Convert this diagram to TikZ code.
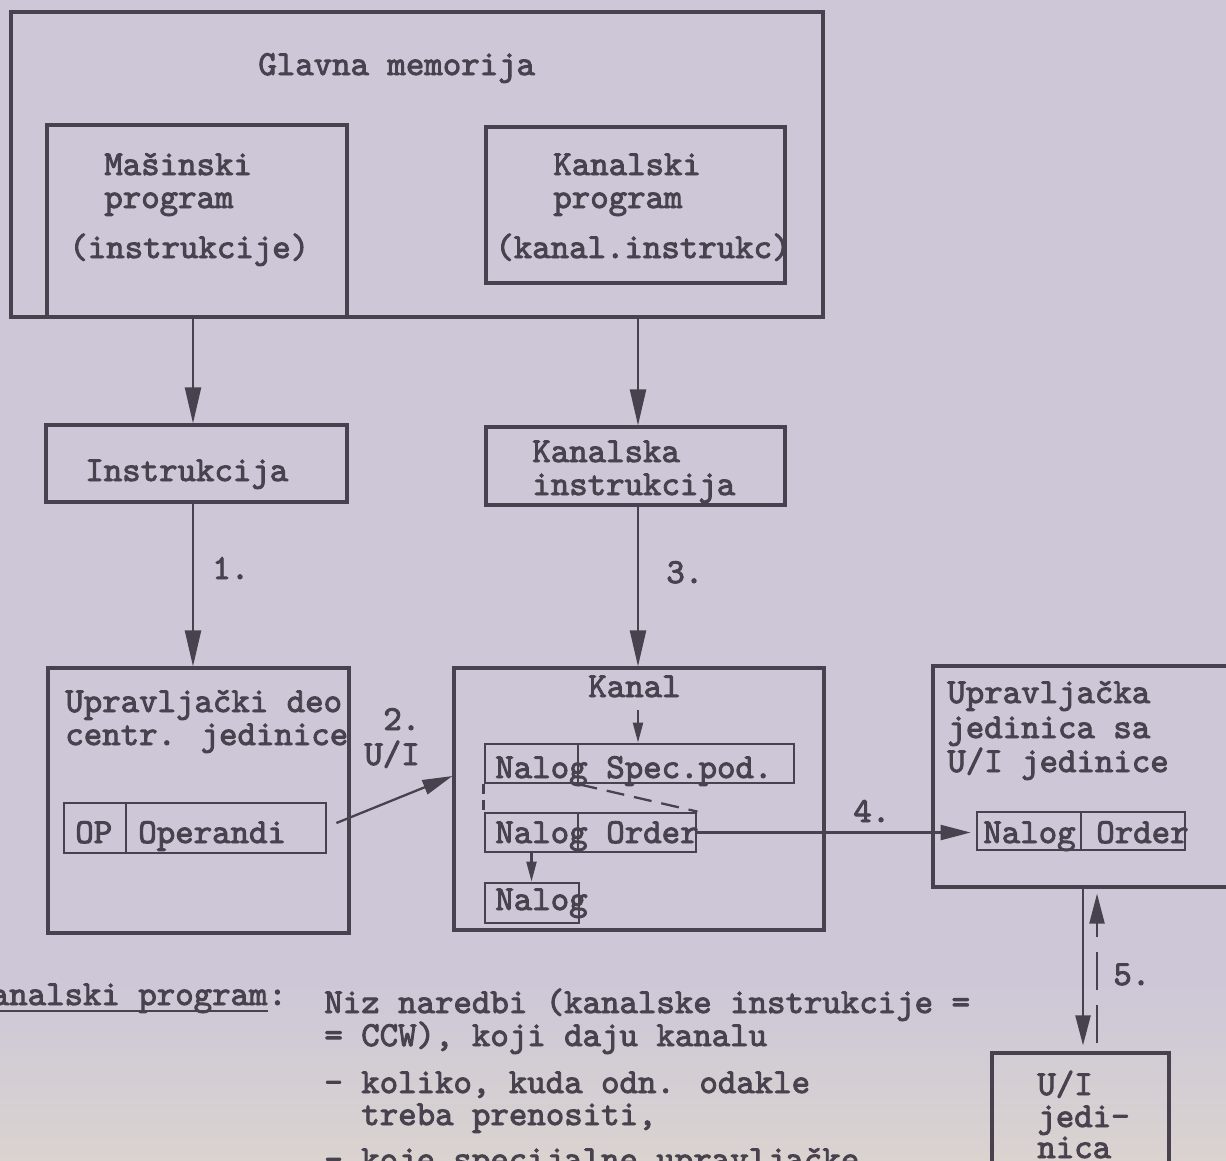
\documentclass[tikz,border=0pt]{standalone}
\usepackage{fontspec}
\usetikzlibrary{arrows.meta,fit}
\newfontfamily\tw{lmmono10-regular}[Extension=.otf,FakeBold=2.6]
\definecolor{paper}{RGB}{205,199,216}
\definecolor{paperlow}{RGB}{218,211,208}
\definecolor{ink}{RGB}{72,66,78}
\tikzset{
  box/.style={draw=ink, line width=1.8pt, inner sep=0pt},
  field/.style={draw=ink, line width=1.6pt, inner sep=0pt},
  txt/.style={anchor=base west, inner sep=0pt, text=ink, font=\tw\fontsize{20}{19}\selectfont},
  arr/.style={draw=ink, line width=1.3pt, -{Triangle[length=0.72cm,width=0.32cm]}},
  arrm/.style={draw=ink, line width=1.3pt, -{Triangle[length=0.6cm,width=0.3cm]}},
  arrs/.style={draw=ink, line width=1.3pt, -{Triangle[length=0.4cm,width=0.2cm]}},
  dashline/.style={draw=ink, line width=1.3pt, dash pattern=on 0.36cm off 0.2cm}
}
\begin{document}
\begin{tikzpicture}[x=0.02cm, y=-0.02cm]
\useasboundingbox (0,0) rectangle (1226,1160);
\clip (0,0) rectangle (1226,1160);
% Paper
\fill[paper] (0,0) rectangle (1226,1160);
\shade[top color=paper, bottom color=paperlow] (0,980) rectangle (1226,1160);
% Glavna memorija with the two programs
\node[box, fit={(11,12) (823,317)}] (mem) {};
\node[txt] (glavna) at (258,75) {Glavna memorija};
\node[box, fit={(47,125) (347,317)}] (masin) {};
\node[txt] (masin1) at (104,175) {Mašinski};
\node[txt] (masin2) at (104,208) {program};
\node[txt] (masin3) at (69,258) {(instrukcije)};
\node[box, fit={(486,127) (785,283)}] (kanprog) {};
\node[txt] (kanprog1) at (553,175) {Kanalski};
\node[txt] (kanprog2) at (553,208) {program};
\node[txt] (kanprog3) at (495,258) {(kanal.instrukc)};
% Instructions
\coordinate (colA) at (193,0);
\coordinate (colB) at (638,0);
\node[box, fit={(46,425) (347,502)}] (instr) {};
\node[txt] (instr1) at (85,481) {Instrukcija};
\node[box, fit={(486,427) (785,505)}] (kaninstr) {};
\node[txt] (kaninstr1) at (532,462) {Kanalska};
\node[txt] (kaninstr2) at (532,495) {instrukcija};
\draw[arr] (mem.south -| colA) -- (instr.north -| colA);
\draw[arr] (mem.south -| colB) -- (kaninstr.north -| colB);
% Upravljacki deo
\node[box, fit={(48,668) (349,933)}] (upr) {};
\draw[arr] (instr.south -| colA) -- (upr.north -| colA);
\node[txt] (step1) at (212,579) {1.};
\node[txt] (upr1) at (65,712) {Upravljački deo};
\node[txt] (upr2) at (65,745) {centr. jedinice};
\node[field, fit={(64,803) (126,853)}] (op) {};
\node[field, fit={(126,803) (326,853)}] (oper) {};
\node[txt] (op1) at (75,843) {OP};
\node[txt] (oper1) at (138,843) {Operandi};
% Kanal
\node[box, fit={(454,668) (824,930)}] (kanal) {};
\draw[arr] (kaninstr.south -| colB) -- (kanal.north -| colB);
\node[txt] (step3) at (666,583) {3.};
\node[txt] (kanlbl) at (588,697) {Kanal};
\node[field, fit={(485,744) (578,783)}] (nal1) {};
\node[field, fit={(578,744) (794,783)}] (spec) {};
\node[field, fit={(485,813) (578,852)}] (nal2) {};
\node[field, fit={(578,813) (696,852)}] (order2) {};
\node[field, fit={(485,883) (579,923)}] (nal3) {};
\node[txt] (nal1t) at (495,778) {Nalog};
\node[txt] (spect) at (606,778) {Spec.pod.};
\node[txt] (nal2t) at (495,843) {Nalog};
\node[txt] (order2t) at (606,843) {Order};
\node[txt] (nal3t) at (495,910) {Nalog};
\coordinate (kantop) at (638,710);
\draw[arrs] (kantop) -- (spec.north -| kantop);
\draw[arrs] (nal2.south) -- (nal2.south |- nal3.north);
\draw[dashline] (nal1.south east) -- (order2.north east);
\draw[dashline, dash pattern=on 0.2cm off 0.12cm] (nal1.south west) -- (nal2.north west);
% 2. U/I
\draw[arrm] ([shift={(9,-5)}]oper.east) -- ([shift={(0,-23)}]kanal.west);
\node[txt] (step2) at (383,730) {2.};
\node[txt] (step2b) at (364,765) {U/I};
% Upravljacka jedinica
\node[box, fit={(933,666) (1260,887)}] (uprj) {};
\node[txt] (uprj1) at (947,703) {Upravljačka};
\node[txt] (uprj2) at (947,738) {jedinica sa};
\node[txt] (uprj3) at (947,772) {U/I jedinice};
\node[field, fit={(977,812) (1081,850)}] (nal4) {};
\node[field, fit={(1081,812) (1185,850)}] (order4) {};
\node[txt] (nal4t) at (983,843) {Nalog};
\node[txt] (order4t) at (1096,843) {Order};
\draw[arrm, shorten >=0.1cm] (order2.east) -- (order2.east -| nal4.west);
\node[txt] (step4) at (853,822) {4.};
% U/I jedinica
\coordinate (colD) at (1083,0);
\coordinate (colE) at (1097,0);
\node[box, fit={(992,1053) (1169,1210)}] (uij) {};
\node[txt] (uij1) at (1037,1095) {U/I};
\node[txt] (uij2) at (1037,1127) {jedi-};
\node[txt] (uij3) at (1037,1158) {nica};
\draw[arrm, shorten >=0.12cm] (uprj.south -| colD) -- (uij.north -| colD);
\draw[arrm, dash pattern=on 0.76cm off 0.3cm, shorten <=0.16cm, shorten >=0.1cm] (uij.north -| colE) -- (uprj.south -| colE);
\node[txt] (step5) at (1113,985) {5.};
% Kanalski program text
\node[txt] (kp) at (-28,1005) {Kanalski program};
\node[txt] (kpc) at (kp.base east) {:};
\draw[ink, line width=1.2pt] ([shift={(0,6)}]kp.base west) -- ([shift={(0,6)}]kp.base east);
\node[txt] (kp1) at (324,1013) {Niz naredbi (kanalske instrukcije =};
\node[txt] (kp2) at (324,1046) {= CCW), koji daju kanalu};
\node[txt] (kp3) at (324,1093) {- koliko, kuda odn. odakle};
\node[txt] (kp4) at (361,1125) {treba prenositi,};
\node[txt] (kp5) at (324,1170) {- koje specijalne upravljačke};
\end{tikzpicture}
\end{document}
